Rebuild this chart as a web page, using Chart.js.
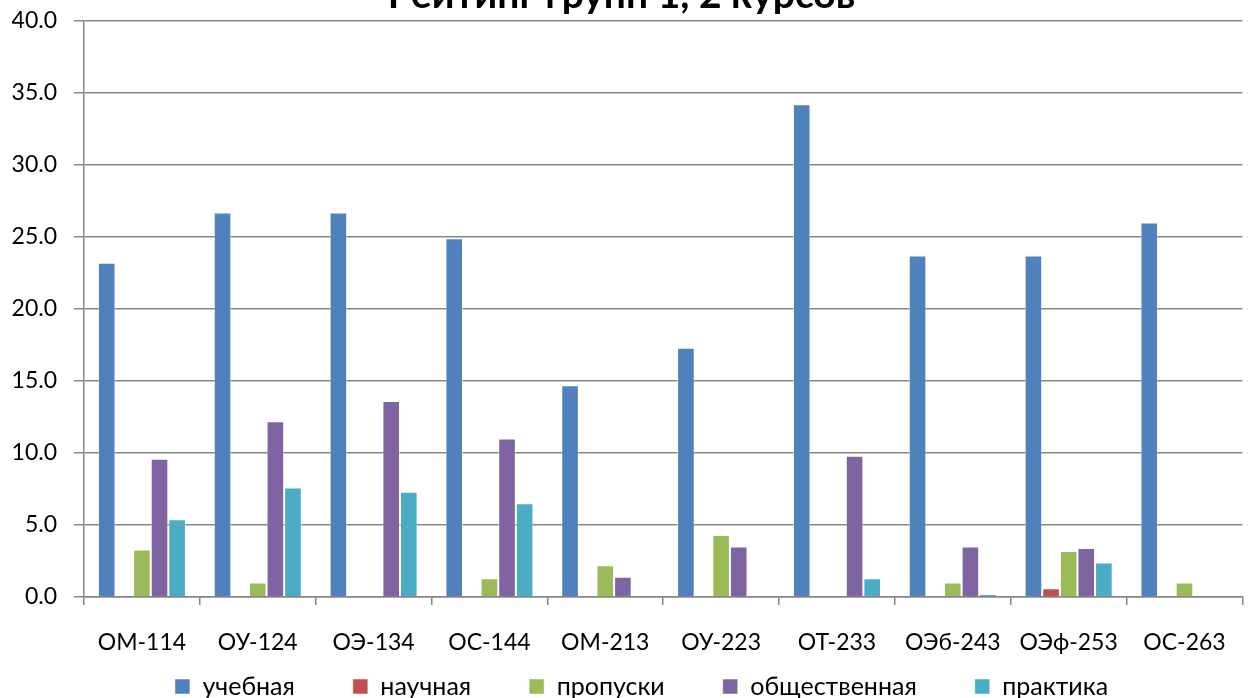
<!DOCTYPE html>
<html>
<head>
<meta charset="utf-8">
<script src="https://cdn.jsdelivr.net/npm/chart.js@4.4.0/dist/chart.umd.min.js"></script>
<style>
  html, body { margin: 0; padding: 0; background: #fff; overflow: hidden; }
  #wrap { position: absolute; left: 0; top: -40px; width: 1250px; height: 790px; }
</style>
</head>
<body>
<div id="wrap"><canvas id="myChart" width="1250" height="790"></canvas></div>
<script>
const groups = ['ОМ-114', 'ОУ-124', 'ОЭ-134', 'ОС-144', 'ОМ-213', 'ОУ-223', 'ОТ-233', 'ОЭб-243', 'ОЭф-253', 'ОС-263'];
const uchebnaya = [23.2, 26.7, 26.7, 24.9, 14.7, 17.3, 34.2, 23.7, 23.7, 26.0];
const nauchnaya = [0, 0, 0, 0, 0, 0, 0, 0, 0.6, 0];
const propuski = [3.3, 1.0, 0.1, 1.3, 2.2, 4.3, 0, 1.0, 3.2, 1.0];
const obshchestv = [9.6, 12.2, 13.6, 11.0, 1.4, 3.5, 9.8, 3.5, 3.4, 0];
const praktika = [5.4, 7.6, 7.3, 6.5, 0, 0, 1.3, 0.2, 2.4, 0];

const fnt = "Lato, 'Open Sans', sans-serif";

function serie(label, data, color) {
    return {
        label: label,
        data: data,
        backgroundColor: color,
        borderColor: 'rgba(255,255,255,0.5)',
        borderWidth: 1,
        categoryPercentage: 0.76,
        barPercentage: 1.0
    };
}

// padding легенды действует и по вертикали, поэтому поднимаем её после раскладки
const legendShift = {
    id: 'legendShift',
    afterLayout(chart) {
        chart.legend.top -= 41;
        chart.legend.bottom -= 41;
        chart.legend.left += 20;
        chart.legend.right += 20;
    }
};

const ctx = document.getElementById('myChart');
const chart = new Chart(ctx, {
    type: 'bar',
    data: {
        labels: groups,
        datasets: [
            serie('учебная', uchebnaya, '#4F81BD'),
            serie('научная', nauchnaya, '#C0504D'),
            serie('пропуски', propuski, '#9BBB59'),
            serie('общественная', obshchestv, '#8064A2'),
            serie('практика', praktika, '#4BACC6')
        ]
    },
    plugins: [legendShift],
    options: {
        responsive: false,
        animation: false,
        layout: { padding: { left: 0, right: 7, top: 0, bottom: 0 } },
        plugins: {
            title: {
                display: true,
                text: 'Рейтинг групп 1, 2 курсов',
                color: '#000',
                font: { family: fnt, size: 39, weight: 'bold' },
                padding: { top: 12, bottom: 2 }
            },
            legend: {
                position: 'bottom',
                labels: {
                    color: '#000',
                    font: { family: fnt, size: 25 },
                    boxWidth: 15,
                    boxHeight: 15,
                    padding: 58
                }
            },
            tooltip: { enabled: false }
        },
        scales: {
            x: {
                afterFit: function (scale) { scale.height = 60; },
                grid: {
                    display: true,
                    drawOnChartArea: false,
                    drawTicks: true,
                    tickLength: 8,
                    color: '#868686',
                    lineWidth: 1.5
                },
                border: { color: '#868686', width: 1.5 },
                ticks: {
                    color: '#000',
                    font: { family: fnt, size: 23 },
                    padding: 24,
                    maxRotation: 0
                }
            },
            y: {
                min: 0,
                max: 40,
                afterFit: function (scale) { scale.width = 84; },
                grid: {
                    color: '#868686',
                    lineWidth: 1.5,
                    tickLength: 10
                },
                border: { color: '#868686', width: 1.5 },
                ticks: {
                    stepSize: 5,
                    color: '#000',
                    font: { family: fnt, size: 23 },
                    padding: 17,
                    callback: function (v) { return v.toFixed(1); }
                }
            }
        }
    }
});
</script>
</body>
</html>
